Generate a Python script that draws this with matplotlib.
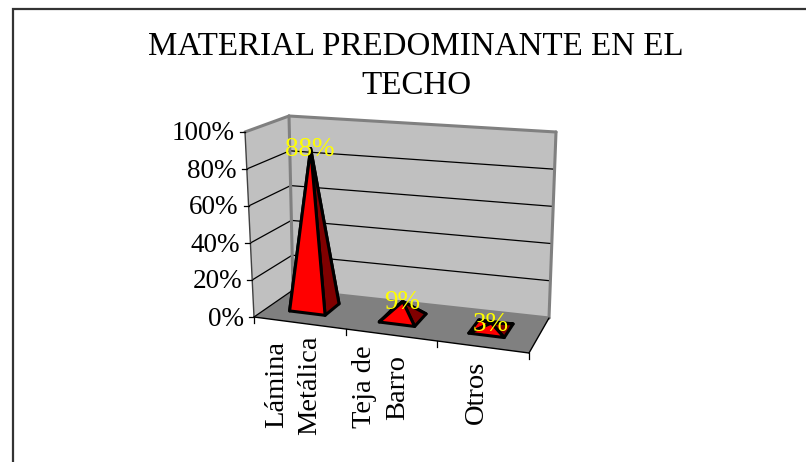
import matplotlib
matplotlib.use("Agg")
import matplotlib.pyplot as plt
from matplotlib.patches import Polygon
import numpy as np

categories = ["Lámina\nMetálica", "Teja de\nBarro", "Otros"]
values = [88, 9, 3]
value_labels = ["88%", "9%", "3%"]
y_ticks = [0, 20, 40, 60, 80, 100]
y_tick_labels = ["0%", "20%", "40%", "60%", "80%", "100%"]

plt.rcParams["font.family"] = ["Liberation Serif", "DejaVu Serif"]

# corners of the 3D box in figure pixels (floor and the 100% plane)
FLOOR = {"fl": (254, 317), "fr": (529, 353), "bl": (293, 290), "br": (549, 318)}
ROOF = {"fl": (245, 132), "fr": (534, 163), "bl": (289, 116), "br": (556, 132)}


def bilinear(c, u, d):
    front = np.array(c["fl"]) * (1 - u) + np.array(c["fr"]) * u
    back = np.array(c["bl"]) * (1 - u) + np.array(c["br"]) * u
    return front * (1 - d) + back * d


def project(u, d, v):
    # u along the categories, d into the depth, v in percent
    t = v / 100
    return tuple(bilinear(FLOOR, u, d) * (1 - t) + bilinear(ROOF, u, d) * t)


fig = plt.figure(figsize=(8.06, 4.62), dpi=100)
ax = fig.add_axes([0, 0, 1, 1])
ax.set_xlim(0, 806)
ax.set_ylim(462, 0)
ax.axis("off")

# outer frame of the chart area, open on the right and at the bottom
ax.plot([13, 13, 806], [462, 9, 9], color="#333333", lw=1.6, solid_joinstyle="miter")

ax.text(416, 66, "MATERIAL PREDOMINANTE EN EL\nTECHO", ha="center", va="center",
        fontsize=23.8, linespacing=1.35, color="black")

# walls and floor
back_wall = [project(0, 1, 0), project(1, 1, 0), project(1, 1, 100), project(0, 1, 100)]
side_wall = [project(0, 0, 0), project(0, 1, 0), project(0, 1, 100), project(0, 0, 100)]
floor = [project(0, 0, 0), project(1, 0, 0), project(1, 1, 0), project(0, 1, 0)]
ax.add_patch(Polygon(back_wall, closed=True, fc="#C0C0C0", ec="none", zorder=1))
ax.add_patch(Polygon(side_wall, closed=True, fc="#C0C0C0", ec="none", zorder=1))
ax.add_patch(Polygon(floor, closed=True, fc="#808080", ec="none", zorder=2))


def line3d(p, q, color="black", lw=1.0, zorder=3):
    ax.plot([p[0], q[0]], [p[1], q[1]], color=color, lw=lw, zorder=zorder,
            solid_capstyle="round")


# gridlines run along the side wall and then the back wall
for tick in y_ticks[1:-1]:
    line3d(project(0, 0, tick), project(0, 1, tick), lw=0.9)
    line3d(project(0, 1, tick), project(1, 1, tick), lw=0.9)

# grey wall outline
line3d(project(0, 0, 100), project(0, 1, 100), color="#808080", lw=2.2)
line3d(project(0, 1, 100), project(1, 1, 100), color="#808080", lw=2.2)
line3d(project(1, 1, 100), project(1, 1, 0), color="#808080", lw=2.2)
line3d(project(0, 1, 100), project(0, 1, 0), color="#808080", lw=2.2)
line3d(project(0, 1, 0), project(1, 1, 0), color="#808080", lw=2.2)

# axes lines on the front edges
line3d(project(0, 0, 0), project(0, 0, 100), color="#404040", lw=1.0, zorder=4)
line3d(project(0, 0, 0), project(1, 0, 0), lw=1.0, zorder=4)
line3d(project(0, 0, 0), project(0, 1, 0), lw=0.9, zorder=4)
line3d(project(1, 0, 0), project(1, 1, 0), lw=1.0, zorder=4)

for tick, label in zip(y_ticks, y_tick_labels):
    x, y = project(0, 0, tick)
    ax.plot([x - 5, x], [y, y], color="black", lw=0.9, zorder=4)
    ax.text(x - 10, y + 2, label, ha="right", va="center", fontsize=19.5, color="black")

for i in range(len(categories) + 1):
    x, y = project(i / len(categories), 0, 0)
    ax.plot([x, x], [y, y + 6], color="black", lw=0.9, zorder=4)

# pyramids, one per category
half_u = 0.066
half_d = 0.2
depth = 0.53
label_x = [293, 381, 476]
label_y = [385, 387, 392]
for i, (name, val, lab) in enumerate(zip(categories, values, value_labels)):
    u = (i + 0.5) / len(categories) - 0.016
    fl = project(u - half_u, depth - half_d, 0)
    fr = project(u + half_u, depth - half_d, 0)
    br = project(u + half_u, depth + half_d, 0)
    bl = project(u - half_u, depth + half_d, 0)
    tip = project(u, depth, val)
    # the back corner only shows on the flat pyramids
    ax.add_patch(Polygon([bl, br, tip], closed=True, fc="#800000", ec="black", lw=2.2,
                         joinstyle="round", zorder=5))
    ax.add_patch(Polygon([bl, fl, tip], closed=True, fc="#FF0000", ec="black", lw=2.2,
                         joinstyle="round", zorder=5))
    ax.add_patch(Polygon([fr, br, tip], closed=True, fc="#800000", ec="black", lw=2.2,
                         joinstyle="round", zorder=6))
    ax.add_patch(Polygon([fl, fr, tip], closed=True, fc="#FF0000", ec="black", lw=2.2,
                         joinstyle="round", zorder=7))
    ax.text(tip[0] - 1, tip[1] + 1, lab, ha="center", va="center", fontsize=19.5,
            color="#FFFF00", zorder=8)

    ax.text(label_x[i], label_y[i], name, rotation=90, ha="center", va="center",
            multialignment="center", fontsize=20.5, linespacing=1.45, color="black")

fig.savefig("out.png", dpi=100, facecolor="white")
